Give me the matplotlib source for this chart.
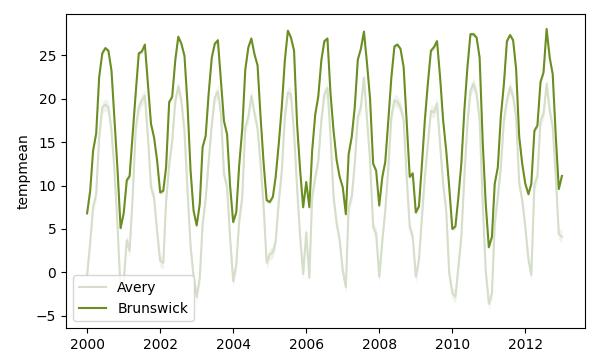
import matplotlib
matplotlib.use("Agg")
import matplotlib.pyplot as plt
import matplotlib.dates as mdates
import numpy as np
import pandas as pd

# monthly mean temperature, Jan 2000 .. Jan 2013
months = pd.date_range("2000-01-01", "2013-01-01", freq="MS")

brunswick = [
    6.8, 9.4, 14.0, 16.0, 22.5, 25.2, 25.8, 25.5, 23.2, 17.5, 11.7, 5.1,    # 2000
    6.8, 10.6, 11.1, 16.0, 20.6, 25.2, 25.4, 26.2, 21.5, 17.1, 15.5, 12.9,  # 2001
    9.2, 9.4, 12.1, 19.6, 20.2, 24.4, 27.1, 26.3, 24.9, 19.4, 11.7, 7.1,    # 2002
    5.4, 7.9, 14.4, 15.7, 20.6, 24.7, 26.3, 26.7, 22.0, 17.4, 15.9, 10.0,   # 2003
    5.8, 6.9, 12.3, 16.5, 23.3, 25.9, 26.9, 25.1, 23.8, 17.9, 12.5, 8.3,    # 2004
    8.1, 8.7, 11.0, 14.8, 19.0, 24.4, 27.8, 27.0, 25.5, 17.1, 11.7, 7.5,    # 2005
    10.4, 7.5, 14.0, 18.2, 20.2, 24.4, 26.6, 26.9, 20.5, 16.3, 12.9, 11.0,  # 2006
    9.8, 6.7, 13.6, 15.6, 19.0, 24.5, 25.7, 27.7, 24.0, 20.0, 12.5, 11.7,   # 2007
    7.7, 11.0, 12.7, 17.5, 22.4, 26.0, 26.2, 25.7, 23.6, 17.5, 11.0, 11.4,  # 2008
    6.9, 7.6, 12.1, 17.5, 21.7, 25.5, 25.9, 26.6, 22.4, 17.5, 14.0, 9.8,    # 2009
    5.0, 5.3, 8.5, 12.5, 18.6, 23.6, 27.4, 27.4, 27.0, 24.7, 15.0, 7.9,     # 2010
    2.9, 4.1, 10.2, 12.1, 17.9, 21.7, 26.6, 27.3, 26.7, 23.4, 15.6, 12.5,   # 2011
    10.2, 9.0, 10.2, 16.3, 16.9, 21.9, 23.0, 28.0, 24.7, 22.8, 15.6, 9.6,   # 2012
    11.1,                                                                   # 2013
]

avery = [
    -0.3, 3.5, 7.5, 9.0, 15.6, 19.0, 19.3, 19.0, 16.3, 11.7, 5.2, -2.2,     # 2000
    -1.0, 3.7, 2.5, 8.7, 16.5, 19.0, 19.8, 20.3, 15.5, 9.8, 8.6, 4.7,       # 2001
    1.3, 1.1, 8.2, 12.4, 15.1, 19.7, 21.4, 19.7, 16.2, 9.5, 3.0, -0.5,      # 2002
    -2.8, -0.6, 5.5, 8.5, 12.8, 17.0, 20.1, 20.8, 18.2, 11.3, 9.8, 4.0,     # 2003
    -1.0, 0.9, 5.9, 8.7, 16.7, 17.9, 20.3, 18.3, 16.5, 12.5, 7.5, 1.1,      # 2004
    2.1, 2.3, 3.6, 8.2, 11.6, 17.9, 20.7, 20.5, 16.0, 9.8, 4.1, -0.2,       # 2005
    4.6, -0.6, 8.7, 11.0, 12.8, 17.5, 20.5, 21.2, 15.6, 8.7, 5.6, 3.7,      # 2006
    0.2, -1.7, 7.5, 8.7, 12.5, 17.9, 19.0, 22.4, 17.5, 12.9, 5.2, 4.5,      # 2007
    -0.5, 3.7, 7.1, 12.1, 17.9, 19.8, 19.6, 19.0, 17.5, 11.0, 5.2, 4.1,     # 2008
    -0.5, 1.5, 6.0, 11.0, 14.8, 18.6, 18.4, 19.4, 14.8, 10.2, 7.1, -0.1,    # 2009
    -2.4, -2.8, 0.5, 4.1, 11.0, 17.1, 20.9, 21.7, 20.5, 17.5, 7.9, 0.2,     # 2010
    -3.6, -2.4, 5.6, 8.7, 12.1, 17.5, 19.8, 21.3, 20.2, 17.9, 10.2, 8.3,    # 2011
    5.2, 1.5, -0.3, 10.2, 11.0, 17.5, 18.2, 21.7, 18.6, 16.7, 11.0, 4.4,    # 2012
    4.1,                                                                    # 2013
]

# half width of the shaded confidence band
avery_ci = 0.7
brunswick_ci = 0.25

fig, ax = plt.subplots(figsize=(6, 3.63), dpi=100)
fig.subplots_adjust(left=0.11, right=0.975, bottom=0.096, top=0.961)

a = np.array(avery)
b = np.array(brunswick)
ax.fill_between(months, a - avery_ci, a + avery_ci, color="#d4dec8", alpha=0.35, lw=0)
ax.plot(months, a, color="#d4dec8", lw=1.5, label="Avery")
ax.fill_between(months, b - brunswick_ci, b + brunswick_ci, color="#6b8e23", alpha=0.2, lw=0)
ax.plot(months, b, color="#6b8e23", lw=1.5, label="Brunswick")

ax.set_xlim(pd.Timestamp("1999-06-04"), pd.Timestamp("2013-08-20"))
ax.set_ylim(-6.4, 29.7)
ax.set_yticks([-5, 0, 5, 10, 15, 20, 25])
ax.xaxis.set_major_locator(mdates.YearLocator(2))
ax.xaxis.set_major_formatter(mdates.DateFormatter("%Y"))
ax.set_ylabel("tempmean")
ax.legend(loc="lower left")

plt.savefig("out.png")
